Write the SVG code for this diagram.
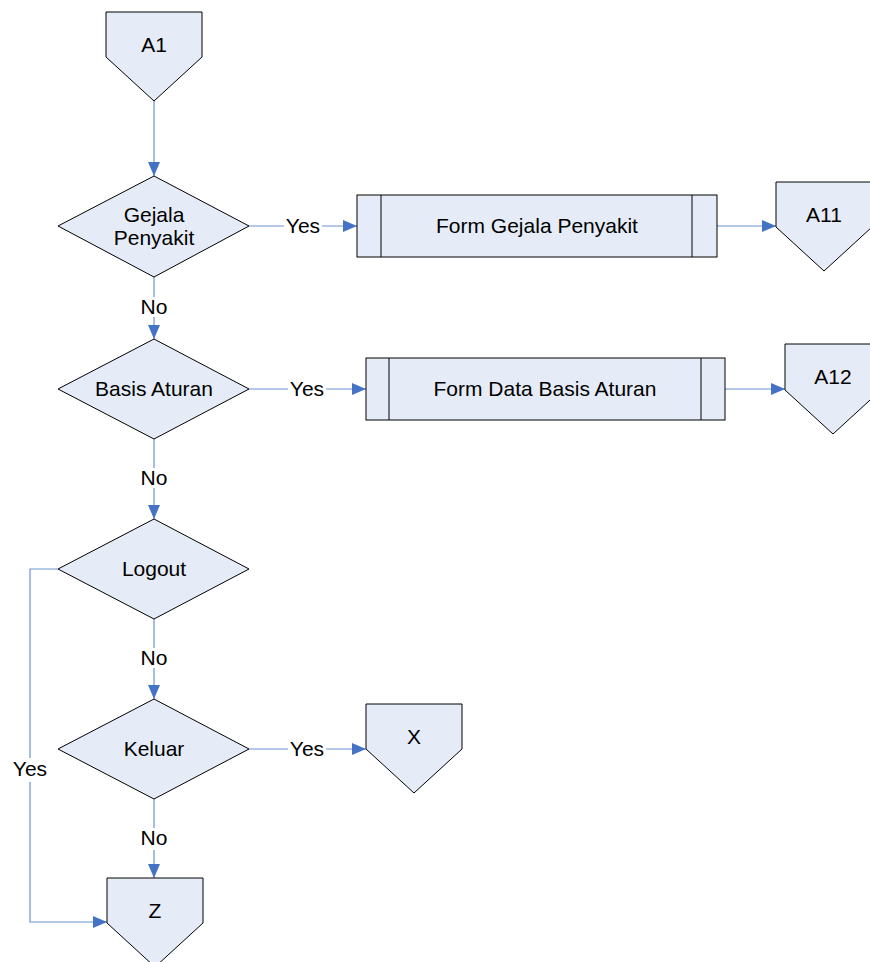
<svg xmlns="http://www.w3.org/2000/svg" width="870" height="962" viewBox="0 0 870 962">
  <style>
    .shape { fill: #e6ecf7; stroke: #000; stroke-width: 1; }
    .inner { fill: none; stroke: #000; stroke-width: 1; }
    .label { font-family: "Liberation Sans", Arial, sans-serif; font-size: 21px; fill: #000; text-anchor: middle; }
    .conn { fill: none; stroke: #6a93d2; stroke-width: 1.2; }
    .arrow { marker-end: url(#head); }
  </style>
  <defs>
    <marker id="head" markerUnits="userSpaceOnUse" markerWidth="14" markerHeight="12" refX="14" refY="6" orient="auto">
      <path d="M0,0 L14,6 L0,12 Z" fill="#4472c4"/>
    </marker>
  </defs>

  <rect width="870" height="962" fill="#fff"/>

  <!-- connectors -->
  <g id="connectors">
    <path class="conn arrow" d="M154,101 V176"/>
    <!-- Gejala Penyakit -->
    <path class="conn" d="M249,226 H284"/>
    <path class="conn arrow" d="M322,226 H357"/>
    <path class="conn" d="M154,277 V297"/>
    <path class="conn arrow" d="M154,317 V339"/>
    <path class="conn arrow" d="M717,226 H776"/>
    <!-- Basis Aturan -->
    <path class="conn" d="M249,389 H288"/>
    <path class="conn arrow" d="M326,389 H366"/>
    <path class="conn" d="M154,439 V468"/>
    <path class="conn arrow" d="M154,488 V519"/>
    <path class="conn arrow" d="M725,389 H785"/>
    <!-- Logout -->
    <path class="conn" d="M154,619 V648"/>
    <path class="conn arrow" d="M154,668 V699"/>
    <path class="conn" d="M58,569 H30 V758"/>
    <path class="conn arrow" d="M30,782 V922 H107"/>
    <!-- Keluar -->
    <path class="conn" d="M249,749 H288"/>
    <path class="conn arrow" d="M326,749 H366"/>
    <path class="conn" d="M154,799 V828"/>
    <path class="conn arrow" d="M154,850 V878"/>

    <text class="label" x="303" y="233">Yes</text>
    <text class="label" x="154" y="314">No</text>
    <text class="label" x="307" y="396">Yes</text>
    <text class="label" x="154" y="485">No</text>
    <text class="label" x="154" y="665">No</text>
    <text class="label" x="307" y="756">Yes</text>
    <text class="label" x="30" y="776">Yes</text>
    <text class="label" x="154" y="845">No</text>
  </g>

  <g id="A1">
    <polygon class="shape" points="106,12 202,12 202,57 154,101 106,57"/>
    <text class="label" x="154" y="52">A1</text>
  </g>

  <g id="gejala-penyakit">
    <polygon class="shape" points="154,176 249,226 154,277 58,226"/>
    <text class="label" x="154" y="222">Gejala</text>
    <text class="label" x="154" y="245">Penyakit</text>
  </g>

  <g id="form-gejala-penyakit">
    <rect class="shape" x="357" y="195" width="360" height="62"/>
    <line class="inner" x1="381" y1="195" x2="381" y2="257"/>
    <line class="inner" x1="692" y1="195" x2="692" y2="257"/>
    <text class="label" x="537" y="233">Form Gejala Penyakit</text>
  </g>

  <g id="A11">
    <polygon class="shape" points="776,182 872,182 872,227 824,271 776,227"/>
    <text class="label" x="824" y="222">A11</text>
  </g>

  <g id="basis-aturan">
    <polygon class="shape" points="154,339 249,389 154,439 58,389"/>
    <text class="label" x="154" y="396">Basis Aturan</text>
  </g>

  <g id="form-data-basis-aturan">
    <rect class="shape" x="366" y="358" width="359" height="62"/>
    <line class="inner" x1="389" y1="358" x2="389" y2="420"/>
    <line class="inner" x1="701" y1="358" x2="701" y2="420"/>
    <text class="label" x="545" y="396">Form Data Basis Aturan</text>
  </g>

  <g id="A12">
    <polygon class="shape" points="785,344 881,344 881,390 833,434 785,390"/>
    <text class="label" x="833" y="384">A12</text>
  </g>

  <g id="logout">
    <polygon class="shape" points="154,519 249,569 154,619 58,569"/>
    <text class="label" x="154" y="576">Logout</text>
  </g>

  <g id="keluar">
    <polygon class="shape" points="154,699 249,749 154,799 58,749"/>
    <text class="label" x="154" y="756">Keluar</text>
  </g>

  <g id="X">
    <polygon class="shape" points="366,704 462,704 462,749 414,793 366,749"/>
    <text class="label" x="414" y="744">X</text>
  </g>

  <g id="Z">
    <polygon class="shape" points="107,878 203,878 203,923 155,967 107,923"/>
    <text class="label" x="155" y="918">Z</text>
  </g>
</svg>
